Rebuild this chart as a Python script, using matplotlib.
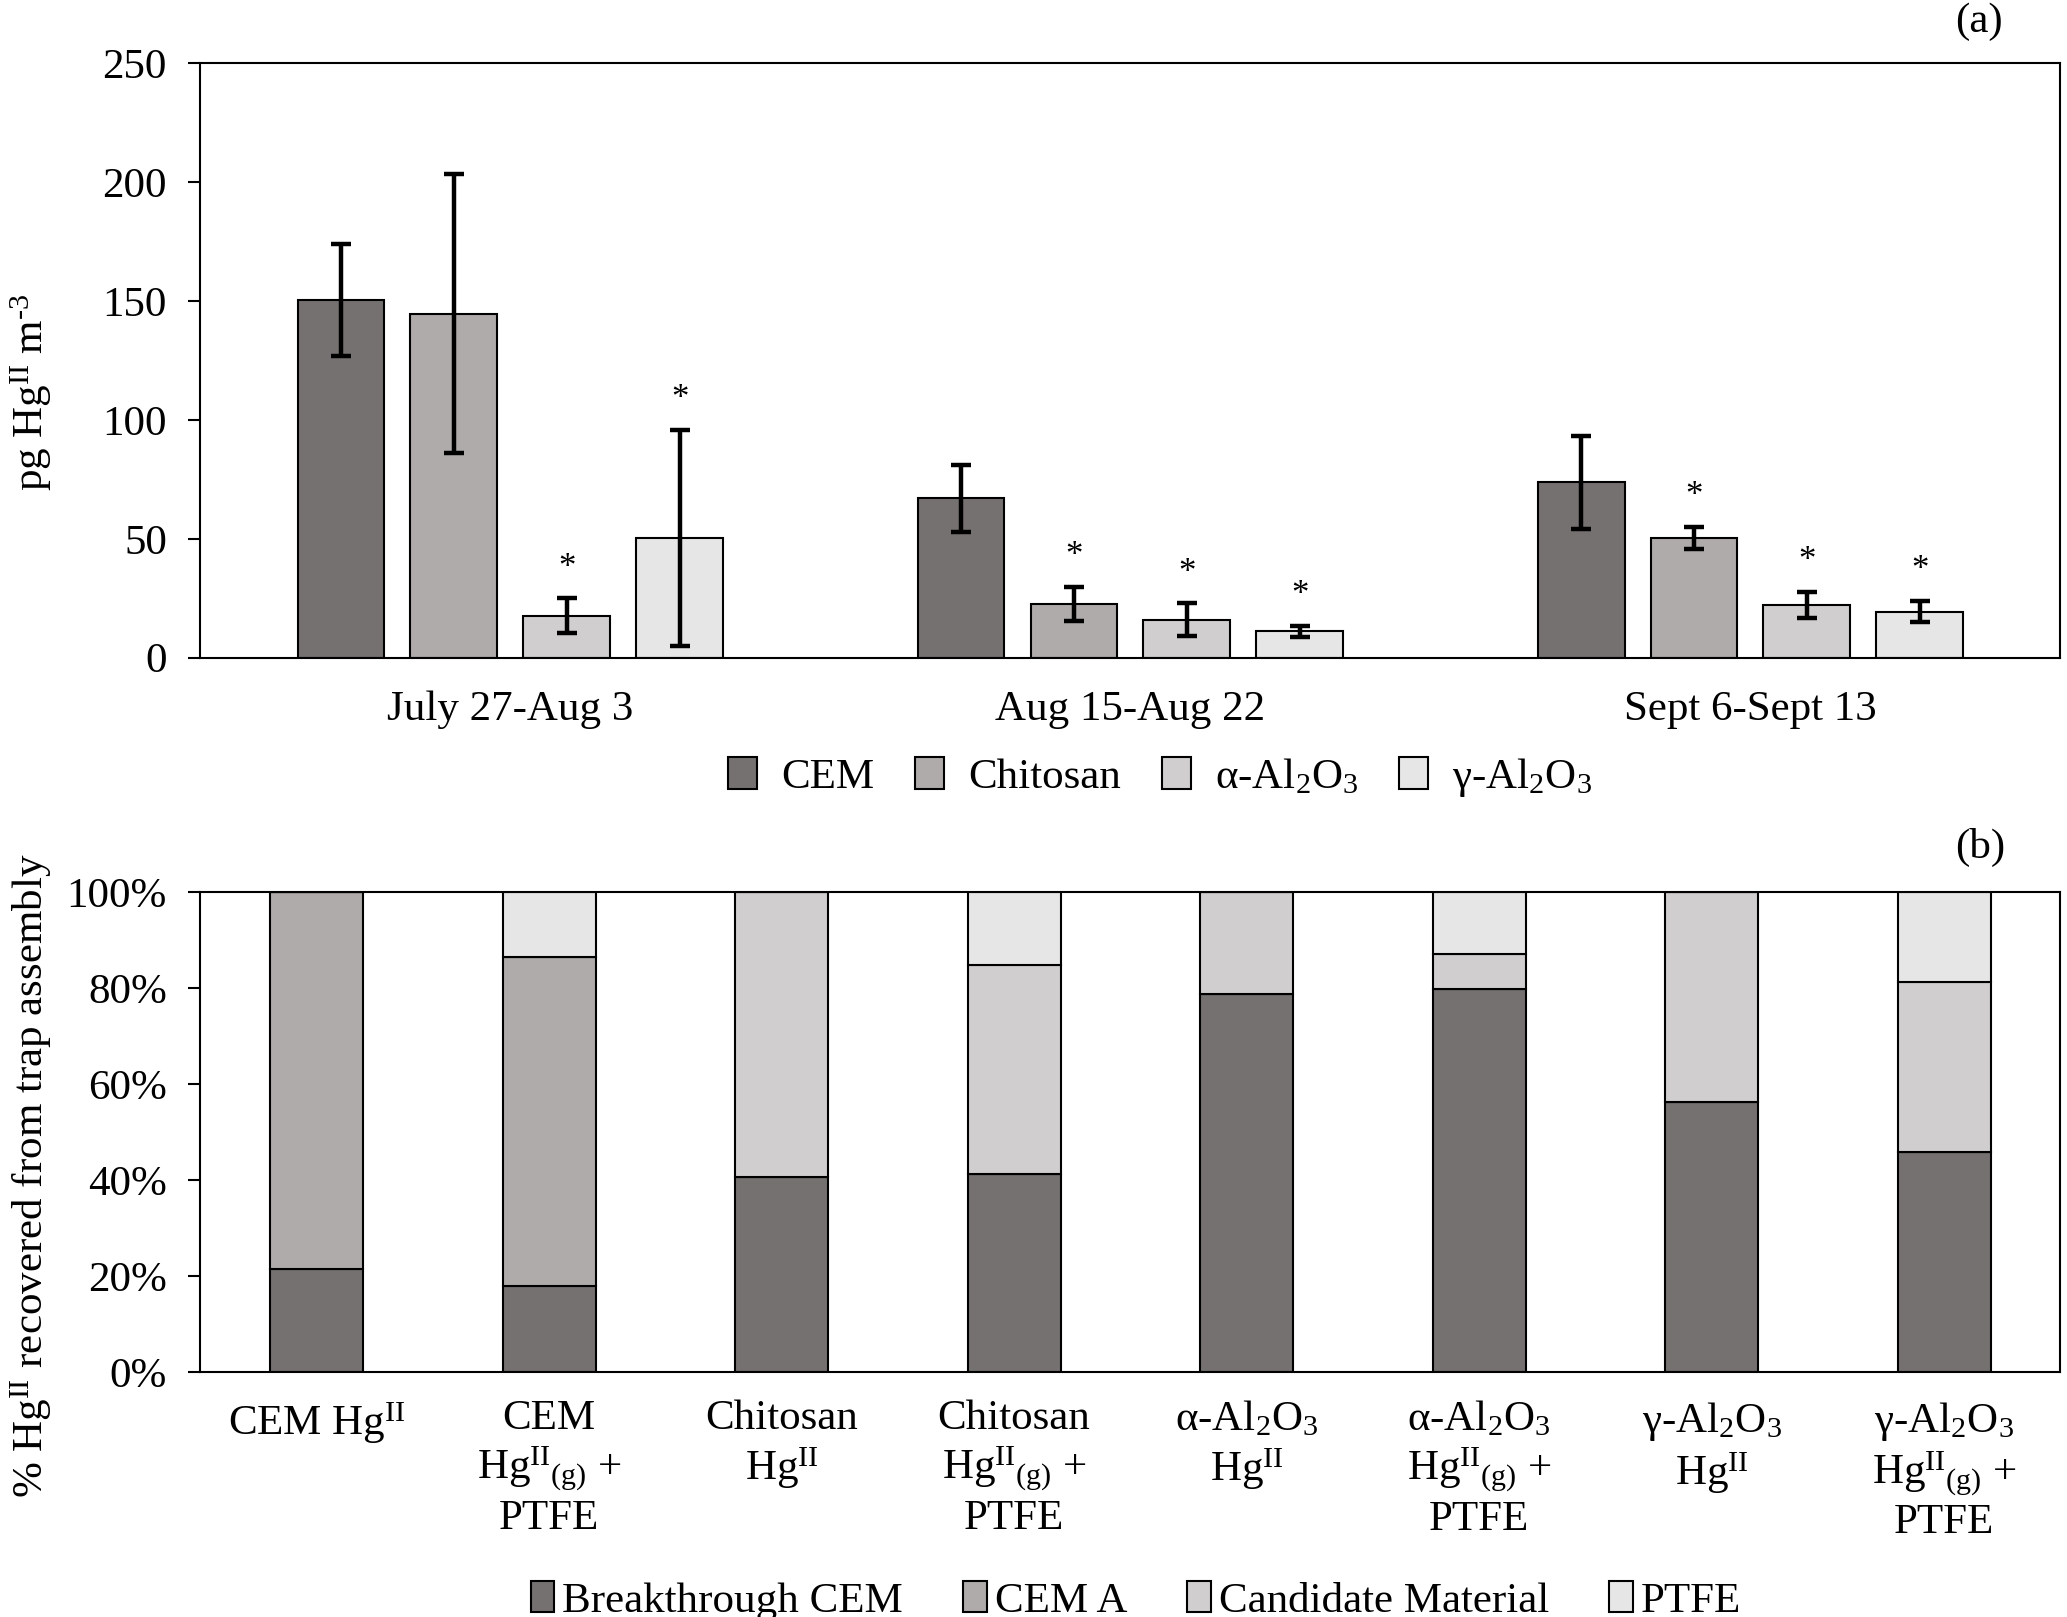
import numpy as np
import matplotlib
matplotlib.use("Agg")
import matplotlib.pyplot as plt

plt.rcParams['font.family'] = ['Liberation Serif', 'DejaVu Serif']
plt.rcParams['mathtext.fontset'] = 'custom'
plt.rcParams['mathtext.rm'] = 'Liberation Serif'
plt.rcParams['mathtext.it'] = 'Liberation Serif:italic'
plt.rcParams['mathtext.bf'] = 'Liberation Serif:bold'

# panel (a) data
periods = ['July 27-Aug 3', 'Aug 15-Aug 22', 'Sept 6-Sept 13']
materials = ['CEM', 'Chitosan', 'α-Al$_2$O$_3$', 'γ-Al$_2$O$_3$']
cem_vals = [150.5, 67.0, 73.7]
chitosan_vals = [144.7, 22.7, 50.4]
alpha_vals = [17.7, 16.0, 22.2]
gamma_vals = [50.4, 11.0, 19.4]
cem_err = [23.5, 14.0, 19.7]
chitosan_err = [58.5, 7.2, 4.7]
alpha_err = [7.2, 6.8, 5.5]
gamma_err = [45.4, 2.2, 4.4]
# significance stars per material, per period
cem_star = [False, False, False]
chitosan_star = [False, True, True]
alpha_star = [True, True, True]
gamma_star = [True, True, True]

# panel (b) data
setups = [r'CEM Hg$^{\rm II}$',
          'CEM\nHg$^{\\rm II}{}_{\\rm (g)}$ +\nPTFE',
          'Chitosan\nHg$^{\\rm II}$',
          'Chitosan\nHg$^{\\rm II}{}_{\\rm (g)}$ +\nPTFE',
          'α-Al$_2$O$_3$\nHg$^{\\rm II}$',
          'α-Al$_2$O$_3$\nHg$^{\\rm II}{}_{\\rm (g)}$ +\nPTFE',
          'γ-Al$_2$O$_3$\nHg$^{\\rm II}$',
          'γ-Al$_2$O$_3$\nHg$^{\\rm II}{}_{\\rm (g)}$ +\nPTFE']
components = ['Breakthrough CEM', 'CEM A', 'Candidate Material', 'PTFE']
breakthrough = [21.4, 17.9, 40.7, 41.2, 78.8, 79.7, 56.3, 45.9]
cem_a = [78.6, 68.6, 0, 0, 0, 0, 0, 0]
candidate = [0, 0, 59.3, 43.7, 21.2, 7.4, 43.7, 35.4]
ptfe = [0, 13.5, 0, 15.1, 0, 12.9, 0, 18.7]

colors = ['#767171', '#AFABAB', '#D0CECE', '#E7E6E6']
fs = 31

fig = plt.figure(figsize=(20.67, 16.17), dpi=100)
ax1 = fig.add_axes([0.0969, 0.5933, 0.8999, 0.3676])
ax2 = fig.add_axes([0.0969, 0.1516, 0.8999, 0.2967])

# ---- (a) grouped bars ----
x = np.arange(len(periods))
step = 0.182
width = 0.14
vals = [cem_vals, chitosan_vals, alpha_vals, gamma_vals]
errs = [cem_err, chitosan_err, alpha_err, gamma_err]
stars = [cem_star, chitosan_star, alpha_star, gamma_star]
for i in range(4):
    pos = x + (i - 1.5) * step
    ax1.bar(pos, vals[i], width, color=colors[i], edgecolor='black',
            linewidth=1.5, label=materials[i], zorder=2)
    ax1.errorbar(pos, vals[i], yerr=errs[i], fmt='none', ecolor='black',
                 elinewidth=3.2, capsize=7.5, capthick=3.2, zorder=3)
    for j in range(len(periods)):
        if stars[i][j]:
            ax1.annotate('*', (pos[j], vals[i][j] + errs[i][j]),
                         xytext=(0, 10), textcoords='offset points',
                         ha='center', va='bottom', fontsize=25)

ax1.set_xlim(-0.5, 2.5)
ax1.set_ylim(0, 250)
ax1.set_yticks(np.arange(0, 251, 50))
ax1.set_xticks(x)
ax1.set_xticklabels(periods)
ax1.tick_params(axis='x', length=0, pad=24, labelsize=fs)
ax1.tick_params(axis='y', direction='out', length=9, width=1.5, labelsize=fs, pad=15)
ax1.set_ylabel(r'pg Hg$^{\rm II}$ m$^{\text{-}3}$', fontsize=fs)
ax1.yaxis.set_label_coords(-0.0785, 0.447)
for s in ax1.spines.values():
    s.set_linewidth(1.5)
ax1.legend(loc='upper center', bbox_to_anchor=(0.516, -0.10), ncol=4,
           frameon=False, fontsize=fs, handlelength=0.68, handleheight=0.75,
           handletextpad=0.55, columnspacing=0.95)
fig.text(0.946, 0.9866, '(a)', fontsize=fs, ha='left', va='center')

# ---- (b) stacked bars ----
xb = np.arange(len(setups))
stack = [breakthrough, cem_a, candidate, ptfe]
bottom = np.zeros(len(setups))
for i in range(4):
    ax2.bar(xb, stack[i], 0.4, bottom=bottom, color=colors[i],
            edgecolor='black', linewidth=1.5, label=components[i], zorder=2)
    bottom += np.array(stack[i])

ax2.set_xlim(-0.5, 7.5)
ax2.set_ylim(0, 100)
ax2.set_yticks(np.arange(0, 101, 20))
ax2.set_yticklabels([f'{v}%' for v in range(0, 101, 20)])
ax2.set_xticks(xb)
ax2.set_xticklabels(setups, linespacing=1.2)
ax2.tick_params(axis='x', length=0, pad=20, labelsize=fs)
ax2.tick_params(axis='y', direction='out', length=9, width=1.5, labelsize=fs, pad=15)
ax2.set_ylabel(r'% Hg$^{\rm II}$ recovered from trap assembly', fontsize=fs)
ax2.yaxis.set_label_coords(-0.0785, 0.41)
for s in ax2.spines.values():
    s.set_linewidth(1.5)
ax2.legend(loc='upper center', bbox_to_anchor=(0.503, -0.355), ncol=4,
           frameon=False, fontsize=fs, handlelength=0.55, handleheight=0.75,
           handletextpad=0.18, columnspacing=1.4)
fig.text(0.946, 0.476, '(b)', fontsize=fs, ha='left', va='center')

fig.savefig('out.png', dpi=100)
